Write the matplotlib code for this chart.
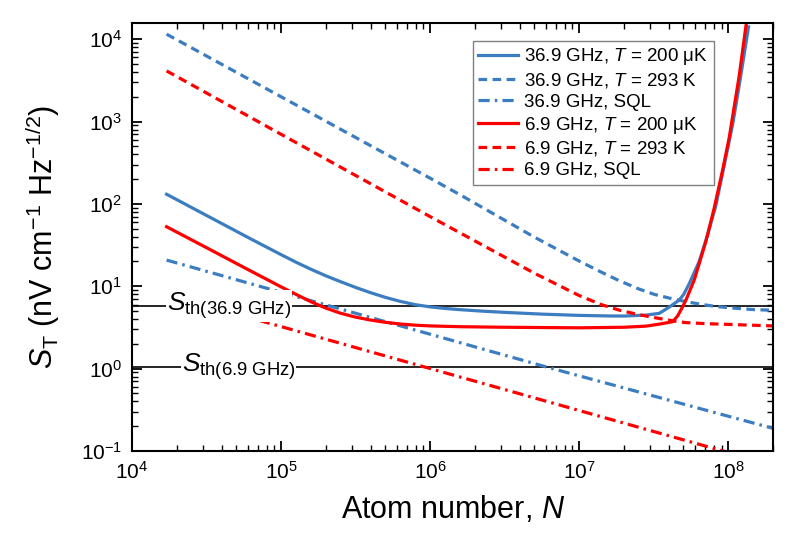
import numpy as np
import matplotlib
matplotlib.use('Agg')
import matplotlib.pyplot as plt
from matplotlib import font_manager
from matplotlib.ticker import LogLocator, NullFormatter

# pick a sans family that really has an italic face for the math symbols
italic_family = 'DejaVu Sans'
for fam in ['Liberation Sans', 'Noto Sans', 'Roboto', 'Open Sans', 'Lato']:
    if any(f.name == fam and f.style in ('italic', 'oblique') for f in font_manager.fontManager.ttflist):
        italic_family = fam
        break

plt.rcParams['font.family'] = 'Liberation Sans'
plt.rcParams['mathtext.fontset'] = 'custom'
plt.rcParams['mathtext.rm'] = 'Liberation Sans'
plt.rcParams['mathtext.it'] = italic_family + ':italic'
plt.rcParams['mathtext.bf'] = 'Liberation Sans:bold'

# 36.9 GHz, T = 200 uK
n_b_cold = [1.706e4, 3.162e4, 6.31e4, 1.0e5, 1.259e5, 1.585e5, 1.995e5, 2.512e5, 3.162e5,
            3.981e5, 5.012e5, 6.31e5, 7.943e5, 1.0e6, 1.259e6, 1.585e6, 2.239e6, 3.162e6,
            5.623e6, 1.0e7, 1.585e7, 1.995e7, 2.818e7, 3.436e7, 3.80e7, 4.227e7, 4.677e7,
            5.01e7, 5.458e7, 6.368e7, 7.244e7, 8.241e7, 9.333e7, 1.072e8, 1.202e8, 1.365e8]
s_b_cold = [131, 72.4, 37.3, 24.2, 19.6, 16.1, 13.4, 11.35, 9.68,
            8.36, 7.33, 6.55, 5.98, 5.62, 5.38, 5.20, 4.99, 4.82,
            4.59, 4.43, 4.36, 4.35, 4.47, 4.69, 5.25, 5.96, 6.79,
            7.94, 10.7, 19.95, 41.7, 95.5, 282, 955, 3311, 14125]

# 36.9 GHz, T = 293 K
n_b_hot = [1.706e4, 1.0e5, 1.0e6, 1.6e6, 5.0e6, 1.0e7, 1.4e7, 1.85e7, 2.5e7, 3.2e7,
           4.0e7, 5.2e7, 6.7e7, 8.5e7, 1.12e8, 1.5e8, 2.0e8]
s_b_hot = [11500, 2000, 205, 128, 39.5, 20.2, 14.9, 11.7, 9.3, 7.95,
           7.2, 6.5, 6.0, 5.65, 5.4, 5.2, 5.12]

# 36.9 GHz, SQL
n_b_sql = [1.706e4, 6.0e6, 2.0e8]
s_b_sql = [20.8, 1.05, 0.188]

# 6.9 GHz, T = 200 uK
n_r_cold = [1.706e4, 3.162e4, 6.31e4, 1.0e5, 1.259e5, 1.585e5, 1.995e5, 2.512e5, 3.162e5,
            3.981e5, 5.012e5, 6.31e5, 7.943e5, 1.0e6, 1.585e6, 3.162e6, 1.0e7, 1.995e7,
            2.8e7, 3.436e7, 4.227e7, 4.571e7, 4.932e7, 5.19e7, 5.902e7, 7.079e7, 8.035e7,
            9.12e7, 1.012e8, 1.18e8, 1.309e8, 1.413e8]
s_r_cold = [52.8, 29.4, 15.2, 9.84, 7.98, 6.49, 5.43, 4.70, 4.22,
            3.89, 3.65, 3.48, 3.37, 3.30, 3.23, 3.18, 3.13, 3.18,
            3.28, 3.47, 3.71, 4.37, 5.64, 6.79, 11.9, 35.5, 89.1,
            251, 631, 3516, 14125, 35480]

# 6.9 GHz, T = 293 K
n_r_hot = [1.706e4, 1.0e5, 1.0e6, 5.0e6, 1.0e7, 1.4e7, 1.85e7, 2.4e7, 3.1e7, 4.45e7,
           5.2e7, 7.0e7, 1.12e8, 2.0e8]
s_r_hot = [4120, 700, 70, 14.4, 7.7, 6.0, 5.14, 4.6, 4.2, 3.75,
           3.62, 3.52, 3.42, 3.3]

# 6.9 GHz, SQL
n_r_sql = [1.706e4, 1.06e8, 2.0e8]
s_r_sql = [7.98, 0.093, 0.068]

# thresholds
s_th_36 = 5.75
s_th_69 = 1.05

blue = '#3b7dc0'
red = '#ff0000'
lw = 2.3

fig = plt.figure(figsize=(7.98, 5.42), dpi=100)
ax = fig.add_axes([0.1654, 0.1679, 0.8036, 0.7902])

ax.axhline(s_th_36, color='black', lw=1.2, zorder=1)
ax.axhline(s_th_69, color='black', lw=1.2, zorder=1)

ax.plot(n_b_cold, s_b_cold, color=blue, lw=lw, label=r'36.9 GHz, $T$ = 200 μK')
ax.plot(n_b_hot, s_b_hot, color=blue, lw=lw, dashes=(2.7, 1.7), label=r'36.9 GHz, $T$ = 293 K')
ax.plot(n_b_sql, s_b_sql, color=blue, lw=lw, dashes=(3.5, 1.6, 0.8, 1.6), label='36.9 GHz, SQL')
ax.plot(n_r_cold, s_r_cold, color=red, lw=lw, label=r'6.9 GHz, $T$ = 200 μK')
ax.plot(n_r_hot, s_r_hot, color=red, lw=lw, dashes=(2.7, 1.7), label=r'6.9 GHz, $T$ = 293 K')
ax.plot(n_r_sql, s_r_sql, color=red, lw=lw, dashes=(3.5, 1.6, 0.8, 1.6), label='6.9 GHz, SQL')

box = dict(facecolor='white', edgecolor='none', pad=0.5)
ax.text(1.71e4, s_th_36, r'$S_{\mathrm{th(36.9\ GHz)}}$', fontsize=19, va='center', ha='left',
        bbox=box, zorder=3)
ax.text(2.15e4, s_th_69, r'$S_{\mathrm{th(6.9\ GHz)}}$', fontsize=19, va='center', ha='left',
        bbox=box, zorder=3)

ax.set_xscale('log')
ax.set_yscale('log')
ax.set_xlim(1e4, 2e8)
ax.set_ylim(0.1, 10 ** 4.2)

ax.xaxis.set_major_locator(LogLocator(base=10, numticks=20))
ax.xaxis.set_minor_locator(LogLocator(base=10, subs=np.arange(2, 10), numticks=100))
ax.xaxis.set_minor_formatter(NullFormatter())
ax.yaxis.set_major_locator(LogLocator(base=10, numticks=20))
ax.yaxis.set_minor_locator(LogLocator(base=10, subs=np.arange(2, 10), numticks=100))
ax.yaxis.set_minor_formatter(NullFormatter())

ax.tick_params(which='both', direction='in', top=True, right=True, labelsize=15)
ax.tick_params(which='major', length=7, width=1.3, pad=7)
ax.tick_params(which='minor', length=4, width=1.0)
for sp in ax.spines.values():
    sp.set_linewidth(1.5)

ax.set_xlabel(r'Atom number, $N$', fontsize=22, labelpad=8)
ax.set_ylabel(r'$S_{\mathrm{T}}$ (nV cm$^{-1}$ Hz$^{-1/2}$)', fontsize=22, labelpad=14)

leg = ax.legend(loc='upper right', bbox_to_anchor=(0.9075, 0.958), borderaxespad=0,
                fontsize=13.5, fancybox=False, framealpha=1, edgecolor='#808080',
                handlelength=2.1, handletextpad=0.35, labelspacing=0.2, borderpad=0.3)
leg.get_frame().set_linewidth(1.0)

fig.savefig('out.png', dpi=100)
